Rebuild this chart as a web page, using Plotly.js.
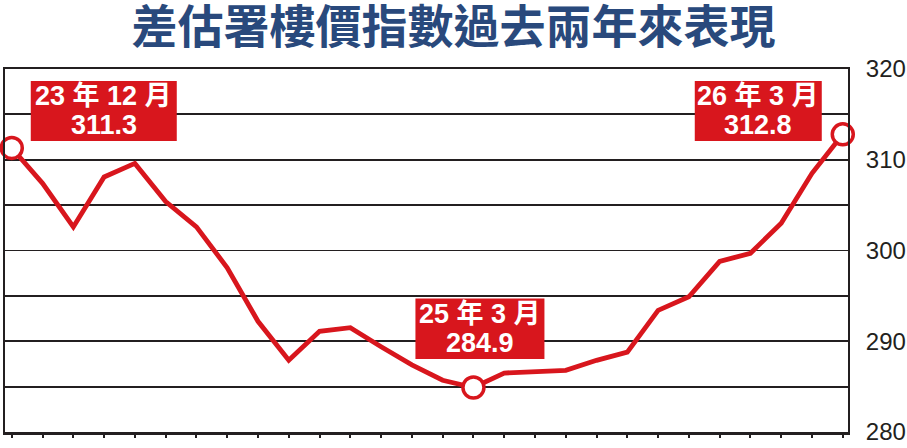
<!DOCTYPE html>
<html>
<head>
<meta charset="utf-8">
<script src="https://cdn.plot.ly/plotly-3.0.1.min.js"></script>
<style>
html,body{margin:0;padding:0;background:#fff;}
#chart{width:907px;height:448px;}
</style>
</head>
<body>
<div id="chart"></div>
<script>
// ---- data ----
const months = ['23年12月','24年1月','24年2月','24年3月','24年4月','24年5月','24年6月','24年7月','24年8月','24年9月','24年10月','24年11月','24年12月',
  '25年1月','25年2月','25年3月','25年4月','25年5月','25年6月','25年7月','25年8月','25年9月','25年10月','25年11月','25年12月',
  '26年1月','26年2月','26年3月'];
const values = [311.3, 307.4, 302.6, 308.1, 309.6, 305.4, 302.6, 298.1, 292.2, 287.9, 291.1, 291.5, 289.4,
  287.4, 285.7, 284.9, 286.5, 286.7, 286.8, 287.9, 288.8, 293.4, 294.9, 298.8, 299.7, 303.0, 308.5, 312.8];
const highlightIdx = [0, 15, 27];
const highlightLabels = ['23 年 12 月', '25 年 3 月', '26 年 3 月'];
const yTickVals = [280, 290, 300, 310, 320];
const titleText = '差估署樓價指數過去兩年來表現';

// ---- styling ----
const RED = '#d8161d';
const INK = '#231f20';
const xIdx = months.map((_, i) => i);

// box/text placement (pixel offsets relative to each highlighted point)
const boxOffsets = [
  {x0: 19, x1: 165, y0: 7, y1: 67, tx: 92, t1: 52, t2: 23},
  {x0: -58, x1: 71, y0: 28.5, y1: 89, tx: 6.5, t1: 74, t2: 45},
  {x0: -148, x1: -21, y0: -6.7, y1: 53.3, tx: -84.5, t1: 38, t2: 9}
];

const traces = [
  {
    x: xIdx, y: values, type: 'scatter', mode: 'lines',
    line: {color: RED, width: 4.8}, hoverinfo: 'skip', cliponaxis: false
  },
  {
    x: highlightIdx, y: highlightIdx.map(i => values[i]), type: 'scatter', mode: 'markers',
    marker: {symbol: 'circle', size: 21, color: '#ffffff', line: {color: RED, width: 3.5}},
    hoverinfo: 'skip', cliponaxis: false
  }
];

const shapes = [];
const annotations = [];
highlightIdx.forEach((idx, k) => {
  const o = boxOffsets[k];
  shapes.push({
    type: 'rect', xref: 'x', yref: 'y', xsizemode: 'pixel', ysizemode: 'pixel',
    xanchor: idx, yanchor: values[idx],
    x0: o.x0, x1: o.x1, y0: o.y0, y1: o.y1,
    fillcolor: RED, line: {width: 0}, layer: 'above'
  });
  const fnt = {family: 'Liberation Sans, Arial, Noto Sans CJK TC, sans-serif', size: 27, color: '#ffffff', weight: 700};
  annotations.push({
    xref: 'x', yref: 'y', x: idx, y: values[idx], xshift: o.tx, yshift: o.t1,
    xanchor: 'center', yanchor: 'middle', showarrow: false, text: highlightLabels[k], font: fnt
  });
  annotations.push({
    xref: 'x', yref: 'y', x: idx, y: values[idx], xshift: o.tx, yshift: o.t2,
    xanchor: 'center', yanchor: 'middle', showarrow: false, text: values[idx].toFixed(1), font: fnt
  });
});

const layout = {
  width: 907, height: 448,
  margin: {l: 5, r: 59, t: 69, b: 16},
  paper_bgcolor: '#ffffff', plot_bgcolor: '#ffffff',
  showlegend: false,
  title: {
    text: titleText, xref: 'container', x: 0.5, xanchor: 'center',
    yref: 'container', y: 0.94, yanchor: 'middle',
    font: {family: 'Noto Sans CJK TC, Noto Sans CJK SC, sans-serif', size: 46, color: '#29497c', weight: 700}
  },
  xaxis: {
    range: [-0.22, 27.17], showgrid: false, zeroline: false,
    showline: true, linecolor: INK, linewidth: 2.5, mirror: true,
    ticks: 'outside', ticklen: 3, tickwidth: 2, tickcolor: INK,
    tickmode: 'linear', tick0: 0, dtick: 1, showticklabels: false
  },
  yaxis: {
    range: [280, 320], side: 'right',
    showline: true, linecolor: INK, linewidth: 2, mirror: true,
    showgrid: true, gridcolor: INK, gridwidth: 1.8, zeroline: false,
    tickmode: 'array', tickvals: yTickVals, ticktext: yTickVals.map(String),
    ticks: '', ticklabelstandoff: 11,
    tickfont: {family: 'Liberation Sans, Arial, sans-serif', size: 24, color: INK},
    minor: {dtick: 5, showgrid: true, gridcolor: INK, gridwidth: 1.8, ticks: ''}
  },
  shapes: shapes,
  annotations: annotations
};

Plotly.newPlot('chart', traces, layout, {displayModeBar: false, staticPlot: true});
</script>
</body>
</html>
